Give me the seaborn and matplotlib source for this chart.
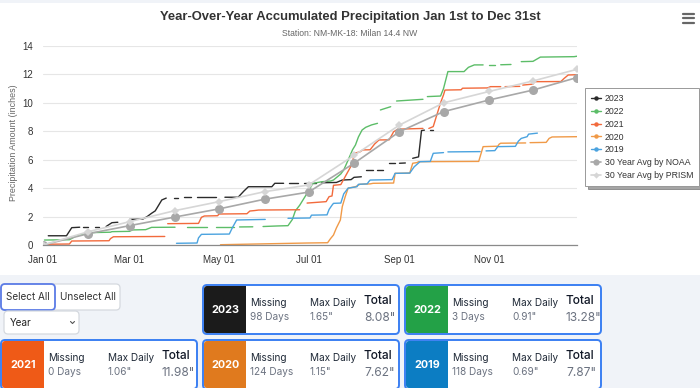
import numpy as np
import pandas as pd
import matplotlib
matplotlib.use("Agg")
import matplotlib.pyplot as plt
from matplotlib.patches import FancyBboxPatch, Rectangle
from matplotlib.lines import Line2D
import seaborn as sns

# x = day of year (0 = Jan 01), y = accumulated inches
# each inner list is one unbroken run; breaks between runs are missing days
runs_2023 = [
    [(3.6, 0.65), (16, 0.65), (19.6, 1.22), (25, 1.25)],
    [(27.5, 1.25), (31, 1.25)],
    [(35.5, 1.27), (38, 1.27)],
    [(43, 1.3), (47, 1.57), (51, 1.6)],
    [(59, 1.8), (68, 1.82), (71, 2.0), (74, 2.23), (76.5, 2.4), (81, 3.17), (84, 3.3)],
    [(89, 3.33), (92, 3.33)],
    [(96, 3.35), (101, 3.35)],
    [(105, 3.36), (118, 3.36)],
    [(124, 3.36), (133, 3.36), (137, 3.8), (140, 4.1), (156, 4.1), (158, 4.34), (164, 4.34)],
    [(168, 4.36), (174, 4.36)],
    [(178, 4.36), (186, 4.36)],
    [(190, 4.38), (200, 4.4), (204, 4.57), (210, 4.6), (212, 4.76), (217, 4.8)],
    [(220, 5.28), (225, 5.28)],
    [(228, 5.3), (232, 5.3)],
    [(236, 5.75), (240, 5.75)],
    [(243, 5.75), (247, 5.77)],
    [(252, 6.1), (256, 6.2), (258, 8.05), (260, 8.08)],
    [(264, 8.08), (266, 8.08)],
]
runs_2022 = [
    [(1, 0.35), (18, 0.37), (22, 0.6), (25, 0.7), (32, 0.87), (46, 0.9), (47, 0.94),
     (59, 0.96), (61, 1.06), (70, 1.08), (74, 1.24), (90, 1.25)],
    [(98, 1.25), (112, 1.25)],
    [(118, 1.26), (130, 1.26)],
    [(134, 1.27), (143, 1.28)],
    [(150, 1.3), (160, 1.34), (167, 1.36), (170, 1.8), (172, 2.4), (175, 2.8), (178, 3.3),
     (181, 3.8), (184, 4.34), (190, 4.45), (196, 4.5), (198, 4.57), (203, 5.0), (205, 5.28),
     (208, 5.98), (211, 6.7), (213, 7.04), (215, 7.6), (217.5, 8.09), (220, 8.28),
     (224, 8.45), (228, 8.56)],
    [(230, 9.5), (233, 9.6), (237, 9.73)],
    [(241, 10.13), (259, 10.25)],
    [(262, 10.44), (271, 10.48), (273, 11.0), (276, 12.2), (287, 12.2), (290, 12.5),
     (294, 12.67), (300, 12.67)],
    [(304, 12.67), (308, 12.67)],
    [(312, 12.68), (319, 12.7)],
    [(326, 12.9), (334, 12.92), (337, 13.1), (339, 13.22), (362, 13.25), (364, 13.28)],
]
runs_2021 = [
    [(0, 0.05), (18, 0.07), (19.6, 0.28), (45, 0.3), (46, 0.45), (48, 0.58), (83, 0.6)],
    [(85, 1.5), (106, 1.52), (108, 1.95), (110, 2.04), (119, 2.06), (120, 2.18), (139, 2.2),
     (141, 2.39), (144, 2.42), (147, 2.46), (175, 2.48)],
    [(180, 2.95), (193, 3.05), (195, 3.4), (197, 3.45), (198, 4.2), (203, 4.25), (207, 5.0),
     (211, 5.75), (212, 6.45), (216, 6.55), (218, 6.69), (223, 6.7), (226, 7.1), (229, 7.39),
     (236, 7.4), (239, 7.97), (242, 8.15), (259, 8.2)],
    [(263, 8.2), (266, 8.33), (268, 9.0), (271, 10.0), (273, 10.56), (274, 10.9), (285, 10.92),
     (286, 11.03), (303, 11.05), (305, 11.14), (312, 11.14)],
    [(315, 11.14), (325, 11.16)],
    [(327, 11.25), (334, 11.32), (335, 11.49), (353, 11.5), (355, 11.7), (358, 11.96), (364, 11.98)],
]
runs_2020 = [
    [(121, 0.02), (150, 0.08), (180, 0.14), (194, 0.16), (196, 0.45), (198, 0.7), (200, 1.2),
     (202.7, 1.76), (204, 2.7), (206, 3.4), (208, 4.0), (213, 4.1), (216, 4.27), (223, 4.3),
     (225, 4.34), (239, 4.36), (240, 5.04), (250, 5.06), (252, 5.75), (255, 5.8), (256, 5.86),
     (297, 5.88), (300, 6.92), (310, 6.95), (311, 7.1), (312, 7.16), (329, 7.18)],
    [(332, 7.2), (343, 7.22), (345, 7.5), (347, 7.6), (364, 7.62)],
]
runs_2019 = [
    [(91, 0.12), (105, 0.14), (106, 0.5), (108, 0.75), (127, 0.77), (129, 1.2), (132, 1.76),
     (151.5, 1.8)],
    [(167, 1.88), (182, 1.9), (183, 2.1), (193.6, 2.12), (195, 2.5), (197, 2.8), (198, 2.93),
     (203, 2.95), (205, 3.6), (208, 4.0), (214, 4.1), (215, 4.27), (221, 4.3), (222, 4.45),
     (223, 4.57), (238, 4.6), (240, 5.04), (250, 5.06), (253, 5.5), (257, 5.86), (264, 5.88),
     (266, 6.45), (273, 6.5)],
    [(276, 6.55), (298, 6.57)],
    [(302, 6.62), (308, 6.64), (310, 6.92), (322, 6.94), (324, 7.3), (326, 7.5), (330, 7.62),
     (331, 7.8), (337, 7.87)],
]

avg_days = [0, 31, 59, 90, 120, 151, 181, 212, 243, 273, 304, 334, 364]
noaa_avg = [0, 0.8, 1.36, 1.97, 2.54, 3.22, 3.72, 5.75, 7.97, 9.38, 10.2, 10.9, 11.78]
prism_avg = [0, 0.94, 1.64, 2.42, 3.05, 3.75, 4.22, 6.3, 8.44, 10.0, 10.8, 11.54, 12.36]

years = ['2023', '2022', '2021', '2020', '2019']
year_runs = [runs_2023, runs_2022, runs_2021, runs_2020, runs_2019]
line_colors = ['#2b2b2b', '#5cbd68', '#f26a3c', '#f09a48', '#4ba3df']

month_days = [0, 59, 120, 181, 243, 304]
month_labels = ['Jan 01', 'Mar 01', 'May 01', 'Jul 01', 'Sep 01', 'Nov 01']

# summary cards
card_years = ['2023', '2022', '2021', '2020', '2019']
card_missing = ['98 Days', '3 Days', '0 Days', '124 Days', '118 Days']
card_maxdaily = ['1.65"', '0.91"', '1.06"', '1.15"', '0.69"']
card_total = ['8.08"', '13.28"', '11.98"', '7.62"', '7.87"']
card_colors = ['#1b1b1b', '#23a147', '#ef5a17', '#e07a1e', '#0c7dc3']
card_pos = [(203, 285), (405, 285), (1, 340), (203, 340), (405, 340)]

rows = []
for yr, runs in zip(years, year_runs):
    for i, run in enumerate(runs):
        for d, v in run:
            rows.append([yr, f'{yr}-{i}', d, v])
df = pd.DataFrame(rows, columns=['year', 'run', 'day', 'inches'])

sns.set_theme(style="white")
plt.rcParams['font.family'] = ['Liberation Sans', 'DejaVu Sans']

fig = plt.figure(figsize=(7, 3.88), dpi=100, facecolor='#f0f3f8')

# page layer in pixel coords
ui = fig.add_axes([0, 0, 1, 1], zorder=0)
ui.set_xlim(0, 700)
ui.set_ylim(388, 0)
ui.axis('off')
ui.add_patch(Rectangle((0, 3), 700, 272, color='white', lw=0))

ax = fig.add_axes([43/700, 1-245/388, 534/700, 199/388], zorder=1)
ax.set_facecolor('none')

sns.lineplot(data=df, x='day', y='inches', hue='year', units='run', estimator=None,
             palette=dict(zip(years, line_colors)), hue_order=years, linewidth=1,
             legend=False, ax=ax)
sns.lineplot(x=avg_days, y=noaa_avg, color='#a8a8a8', linewidth=1.2, marker='o',
             markersize=6.5, markeredgewidth=0, ax=ax)
sns.lineplot(x=avg_days, y=prism_avg, color='#d6d6d6', linewidth=1.2, marker='D',
             markersize=4.5, markeredgewidth=0, ax=ax)

ax.set_xlim(0, 364)
ax.set_ylim(0, 14)
ax.set_yticks(range(0, 15, 2))
ax.set_xticks(month_days)
ax.set_xticklabels(month_labels)
ax.set_xlabel('')
ax.set_ylabel('')
ax.grid(axis='y', color='#e6e6e6', linewidth=0.8)
ax.set_axisbelow(True)
for s in ['left', 'right', 'top']:
    ax.spines[s].set_visible(False)
ax.spines['bottom'].set_color('#8a8a8a')
ax.spines['bottom'].set_linewidth(0.9)
ax.tick_params(axis='x', length=4, width=0.9, color='#8a8a8a', labelsize=7, labelcolor='#333333', pad=3)
ax.tick_params(axis='y', length=0, labelsize=7, labelcolor='#333333', pad=7)

handles = [Line2D([], [], color=c, lw=1, marker='o', markersize=2.2) for c in line_colors]
handles.append(Line2D([], [], color='#a8a8a8', lw=1.2, marker='o', markersize=4.5, markeredgewidth=0))
handles.append(Line2D([], [], color='#d6d6d6', lw=1.2, marker='D', markersize=3.2, markeredgewidth=0))
labels = years + ['30 Year Avg by NOAA', '30 Year Avg by PRISM']
leg = ax.legend(handles, labels, loc='upper left', bbox_to_anchor=(585/700, 1-88/388),
                bbox_transform=fig.transFigure, fontsize=6.3, frameon=True, fancybox=False,
                shadow=True, edgecolor='#999999', framealpha=1, labelspacing=0.45,
                handlelength=1.2, handletextpad=0.4, borderpad=0.65, borderaxespad=0)
leg.get_frame().set_linewidth(0.7)
for t in leg.get_texts():
    t.set_color('#333333')

fig.text(0.5, 1-17/388, 'Year-Over-Year Accumulated Precipitation Jan 1st to Dec 31st',
         ha='center', va='center', fontsize=9.4, weight='bold', color='#333333')
fig.text(0.5, 1-33/388, 'Station: NM-MK-18: Milan 14.4 NW', ha='center', va='center',
         fontsize=6.2, color='#666666')
fig.text(14/700, 1-143/388, 'Precipitation Amount (inches)', rotation=90, ha='center',
         va='center', fontsize=6.4, color='#666666')

# menu icon
for yy in [13.5, 18, 22.5]:
    ui.plot([683, 694], [yy, yy], color='#666666', lw=1.6, solid_capstyle='round')

ui_font = ['Inter', 'DejaVu Sans']

# buttons
ui.add_patch(FancyBboxPatch((1, 284), 119, 26, boxstyle='round,pad=0,rounding_size=4',
                            fc='white', ec='#d5d9df', lw=0.9))
ui.add_patch(FancyBboxPatch((1, 284), 54, 26, boxstyle='round,pad=0,rounding_size=4',
                            fc='white', ec='#5b7be6', lw=1.3))
ui.text(28, 297.5, 'Select All', ha='center', va='center', fontsize=7.2, color='#333333',
        family=ui_font)
ui.text(87.5, 297.5, 'Unselect All', ha='center', va='center', fontsize=7.2, color='#333333',
        family=ui_font)
ui.add_patch(FancyBboxPatch((4, 311), 75, 23, boxstyle='round,pad=0,rounding_size=4',
                            fc='white', ec='#d5d9df', lw=0.9))
ui.text(10, 322.5, 'Year', ha='left', va='center', fontsize=7.2, color='#222222', family=ui_font)
ui.plot([70.5, 72.5, 74.5], [321.5, 323.5, 321.5], color='#555555', lw=0.8)

# summary cards
for (cx, cy), yr, col, mis, mx, tot in zip(card_pos, card_years, card_colors,
                                            card_missing, card_maxdaily, card_total):
    ui.add_patch(FancyBboxPatch((cx, cy), 196, 49, boxstyle='round,pad=0,rounding_size=4',
                                fc='white', ec='#3b7ff2', lw=1.4))
    ui.add_patch(FancyBboxPatch((cx + 1, cy + 1), 42, 47, boxstyle='round,pad=0,rounding_size=3',
                                fc=col, ec='none'))
    ui.add_patch(Rectangle((cx + 30, cy + 1), 13, 47, fc=col, ec='none'))
    ui.text(cx + 22, cy + 25, yr, ha='center', va='center', fontsize=7.8, weight='bold',
            color='white', family=ui_font)
    ui.text(cx + 47, cy + 18, 'Missing', ha='left', va='center', fontsize=7.2,
            color='#1f2937', family=ui_font)
    ui.text(cx + 47, cy + 32, mis, ha='left', va='center', fontsize=7.2,
            color='#6b7280', family=ui_font)
    ui.text(cx + 107, cy + 18, 'Max Daily', ha='left', va='center', fontsize=7.2,
            color='#1f2937', family=ui_font)
    ui.text(cx + 107, cy + 32, mx, ha='left', va='center', fontsize=7.2,
            color='#6b7280', family=ui_font)
    ui.text(cx + 161, cy + 16, 'Total', ha='left', va='center', fontsize=8.6,
            color='#111827', family=ui_font, weight='medium')
    ui.text(cx + 161, cy + 33, tot, ha='left', va='center', fontsize=8.6,
            color='#6b7280', family=ui_font)

fig.savefig('out.png', dpi=100, facecolor=fig.get_facecolor())
